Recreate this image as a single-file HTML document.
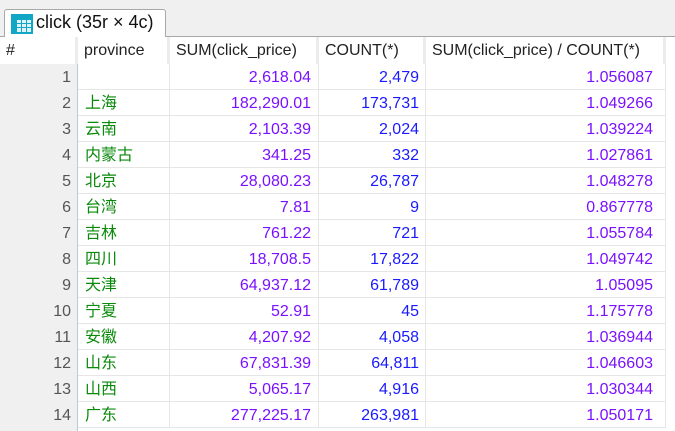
<!DOCTYPE html>
<html><head><meta charset="utf-8"><style>
body{margin:0;width:675px;height:431px;overflow:hidden;background:#fff;font-family:"Liberation Sans","Noto Sans CJK SC",sans-serif;font-size:16px;position:relative}
.abs{position:absolute;box-sizing:border-box;white-space:nowrap}
#strip{left:0;top:0;width:675px;height:37px;background:#f0f0f0;border-bottom:1px solid #a8a8a8}
#tab{left:4px;top:9px;width:162px;height:29px;background:#fff;border:1px solid #a8a8a8;border-bottom:none;border-radius:3px 3px 0 0}
.hd{top:37px;height:27px;line-height:28px;padding-left:6px;color:#222;background:#fff;border-right:3px solid #ececec}
.cell{height:26px;line-height:28px;border-bottom:1px solid #e6e6e6;border-right:1px solid #e6e6e6}
</style></head><body>
<div class="abs" id="strip"></div>
<div class="abs" id="tab">
 <svg class="abs" style="left:6px;top:4px" width="22" height="20">
  <rect x="0" y="0" width="22" height="20" fill="#12a7c4"/>
  <g fill="#dff3fa"><rect x="6" y="6" width="4" height="3"/><rect x="11" y="6" width="4" height="3"/><rect x="16" y="6" width="4" height="3"/><rect x="6" y="10" width="4" height="3"/><rect x="11" y="10" width="4" height="3"/><rect x="16" y="10" width="4" height="3"/><rect x="6" y="14" width="4" height="4"/><rect x="11" y="14" width="4" height="4"/><rect x="16" y="14" width="4" height="4"/></g>
 </svg>
 <span class="abs" style="left:31px;top:2px;font-size:18px;color:#111">click (35r × 4c)</span>
</div>
<div id="grid"></div>
<script>
const provinces=["","上海","云南","内蒙古","北京","台湾","吉林","四川","天津","宁夏","安徽","山东","山西","广东"];
const sums=["2,618.04","182,290.01","2,103.39","341.25","28,080.23","7.81","761.22","18,708.5","64,937.12","52.91","4,207.92","67,831.39","5,065.17","277,225.17"];
const counts=["2,479","173,731","2,024","332","26,787","9","721","17,822","61,789","45","4,058","64,811","4,916","263,981"];
const ratios=["1.056087","1.049266","1.039224","1.027861","1.048278","0.867778","1.055784","1.049742","1.05095","1.175778","1.036944","1.046603","1.030344","1.050171"];
const headers=["#","province","SUM(click_price)","COUNT(*)","SUM(click_price) / COUNT(*)"];
const colX=[0,78,170,319,426,666];
const g=document.getElementById('grid');
function mk(cls,l,t,w,txt,style){const d=document.createElement('div');d.className='abs '+cls;d.style.cssText=`left:${l}px;top:${t}px;width:${w}px;`+style;d.textContent=txt;g.appendChild(d);return d;}
headers.forEach((h,i)=>{
 const d=mk('hd',colX[i],37,colX[i+1]-colX[i],h,'');
 
 
});
mk('',0,64,78,'','height:367px;background:#f0f0f0;border-right:1px solid #b8c8e0');
provinces.forEach((p,r)=>{
 const t=64+r*26;
 const n=mk('cell',0,t,78,String(r+1),'text-align:right;padding-right:6px;color:#555;border-bottom:none;border-right:1px solid #b8c8e0');
 
 
 const a=mk('cell',78,t,92,p,'padding-left:7px;color:#0a8a0a');
 
 
 const b=mk('cell',170,t,149,sums[r],'text-align:right;padding-right:7px;color:#7a10ff');
 
 
 const c=mk('cell',319,t,107,counts[r],'text-align:right;padding-right:6px;color:#1a1aff');
 
 
 const e=mk('cell',426,t,240,ratios[r],'text-align:right;padding-right:12px;color:#7a10ff');
 
 
});
</script>
</body></html>
